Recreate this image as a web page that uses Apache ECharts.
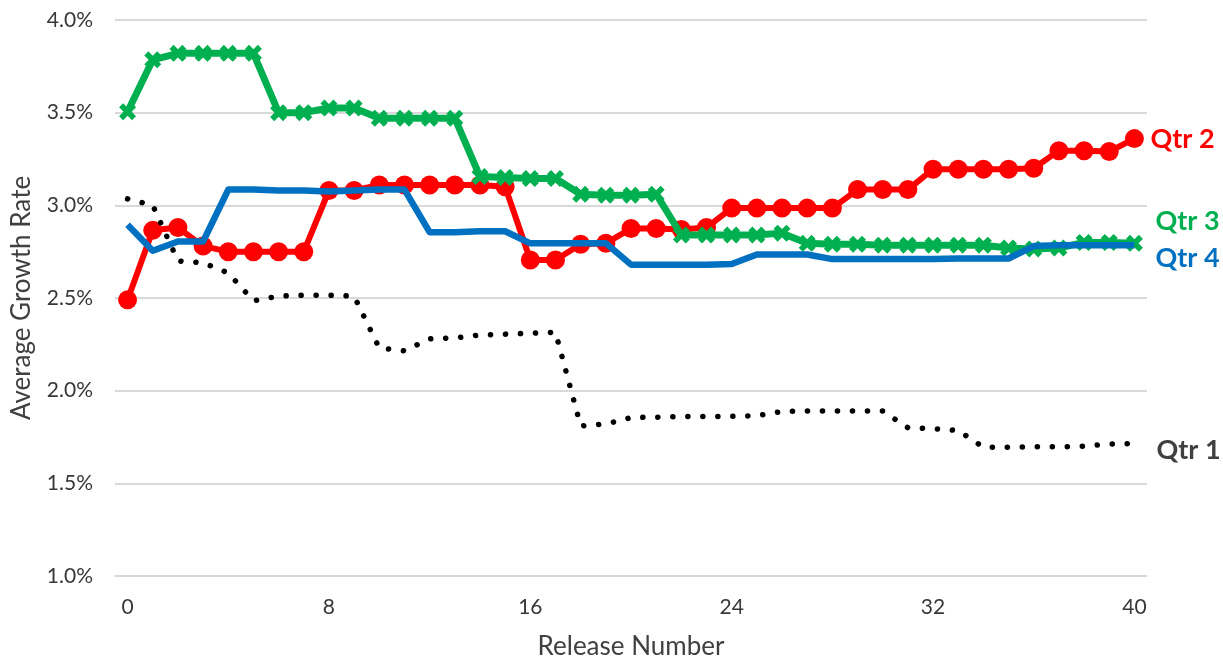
<!DOCTYPE html>
<html>
<head>
<meta charset="utf-8">
<title>Average Growth Rate by Release</title>
<script src="https://cdn.jsdelivr.net/npm/echarts@6/dist/echarts.min.js"></script>
<style>
  html, body { margin: 0; padding: 0; background: #ffffff; }
  #chart { width: 1223px; height: 658px; }
</style>
</head>
<body>
<div id="chart"></div>
<script>
// Release numbers on the x axis (0..40)
const releases = [];
for (let r = 0; r <= 40; r++) releases.push(String(r));

// Average growth rate (%) by release, one array per quarter
const qtr1 = [3.035, 3.00, 2.70, 2.69, 2.635, 2.485, 2.51, 2.515, 2.515, 2.51,
  2.23, 2.215, 2.28, 2.285, 2.30, 2.305, 2.31, 2.315, 1.81, 1.82,
  1.855, 1.857, 1.86, 1.86, 1.862, 1.865, 1.888, 1.89, 1.89, 1.89,
  1.89, 1.80, 1.795, 1.785, 1.695, 1.695, 1.697, 1.697, 1.70, 1.712,
  1.715];
const qtr2 = [2.49, 2.865, 2.88, 2.78, 2.75, 2.75, 2.75, 2.75, 3.08, 3.08,
  3.11, 3.11, 3.11, 3.11, 3.11, 3.10, 2.705, 2.705, 2.79, 2.795,
  2.875, 2.875, 2.87, 2.88, 2.985, 2.985, 2.985, 2.985, 2.985, 3.085,
  3.085, 3.085, 3.195, 3.195, 3.195, 3.195, 3.20, 3.295, 3.295, 3.29,
  3.36];
const qtr3 = [3.505, 3.785, 3.82, 3.82, 3.82, 3.82, 3.50, 3.50, 3.525, 3.525,
  3.47, 3.47, 3.47, 3.47, 3.155, 3.15, 3.145, 3.145, 3.06, 3.055,
  3.055, 3.06, 2.84, 2.84, 2.84, 2.84, 2.85, 2.795, 2.79, 2.79,
  2.785, 2.785, 2.785, 2.785, 2.785, 2.77, 2.765, 2.77, 2.80, 2.80,
  2.795];
const qtr4 = [2.895, 2.755, 2.805, 2.805, 3.085, 3.085, 3.08, 3.08, 3.075, 3.08,
  3.085, 3.085, 2.855, 2.855, 2.86, 2.86, 2.795, 2.795, 2.795, 2.795,
  2.68, 2.68, 2.68, 2.68, 2.683, 2.735, 2.735, 2.735, 2.71, 2.71,
  2.71, 2.71, 2.71, 2.713, 2.713, 2.713, 2.78, 2.785, 2.785, 2.785,
  2.785];

const FONT = 'Lato, "Open Sans", sans-serif';
const xMarker = 'path://M0,2.4 L2.4,0 L5,2.6 L7.6,0 L10,2.4 L7.4,5 L10,7.6 L7.6,10 L5,7.4 L2.4,10 L0,7.6 L2.6,5 Z';

function endLabel(text, color, dist, dy) {
  return {
    show: true,
    formatter: text,
    color: color,
    fontFamily: FONT,
    fontWeight: 'bold',
    fontSize: 27,
    distance: dist,
    offset: [0, dy],
    align: 'left',
    verticalAlign: 'middle'
  };
}

const chart = echarts.init(document.getElementById('chart'), null, { renderer: 'canvas' });
chart.setOption({
  animation: false,
  backgroundColor: '#ffffff',
  grid: { left: 115, right: 76, top: 20, bottom: 82, containLabel: false, outerBoundsMode: 'none' },
  xAxis: {
    type: 'category',
    data: releases,
    boundaryGap: true,
    name: 'Release Number',
    nameLocation: 'middle',
    nameGap: 58,
    nameTextStyle: { fontFamily: FONT, fontSize: 26, color: '#404040' },
    axisLine: { show: false },
    axisTick: { show: false },
    axisLabel: { interval: 7, margin: 21, fontFamily: FONT, fontSize: 21, color: '#383838' },
    splitLine: { show: false }
  },
  yAxis: {
    type: 'value',
    min: 1.0,
    max: 4.0,
    interval: 0.5,
    name: 'Average Growth Rate',
    nameLocation: 'middle',
    nameGap: 80,
    nameTextStyle: { fontFamily: FONT, fontSize: 26, color: '#404040' },
    axisLine: { show: false },
    axisTick: { show: false },
    axisLabel: {
      margin: 22,
      fontFamily: FONT,
      fontSize: 21,
      color: '#383838',
      formatter: v => v.toFixed(1) + '%'
    },
    splitLine: { lineStyle: { color: '#D9D9D9', width: 2 } }
  },
  series: [
    {
      name: 'Qtr 2',
      type: 'line',
      data: qtr2,
      z: 2,
      symbol: 'circle',
      symbolSize: 19,
      showAllSymbol: true,
      itemStyle: { color: '#FF0000' },
      lineStyle: { color: '#FF0000', width: 6, join: 'round' },
      endLabel: endLabel('Qtr 2', '#FF0000', 16, 1)
    },
    {
      name: 'Qtr 3',
      type: 'line',
      data: qtr3,
      z: 3,
      symbol: xMarker,
      symbolSize: 17,
      showAllSymbol: true,
      itemStyle: { color: '#00B050' },
      lineStyle: { color: '#00B050', width: 7, join: 'round' },
      endLabel: endLabel('Qtr 3', '#00B050', 21, -22)
    },
    {
      name: 'Qtr 4',
      type: 'line',
      data: qtr4,
      z: 4,
      symbol: 'none',
      lineStyle: { color: '#0070C0', width: 6.5, join: 'round' },
      endLabel: endLabel('Qtr 4', '#0070C0', 21, 13)
    },
    {
      name: 'Qtr 1',
      type: 'line',
      data: qtr1,
      z: 5,
      symbol: 'none',
      lineStyle: { color: '#000000', width: 5.5, type: [0.1, 14.9], cap: 'round', join: 'round' },
      endLabel: endLabel('Qtr 1', '#404040', 22, 7)
    }
  ]
});
</script>
</body>
</html>
